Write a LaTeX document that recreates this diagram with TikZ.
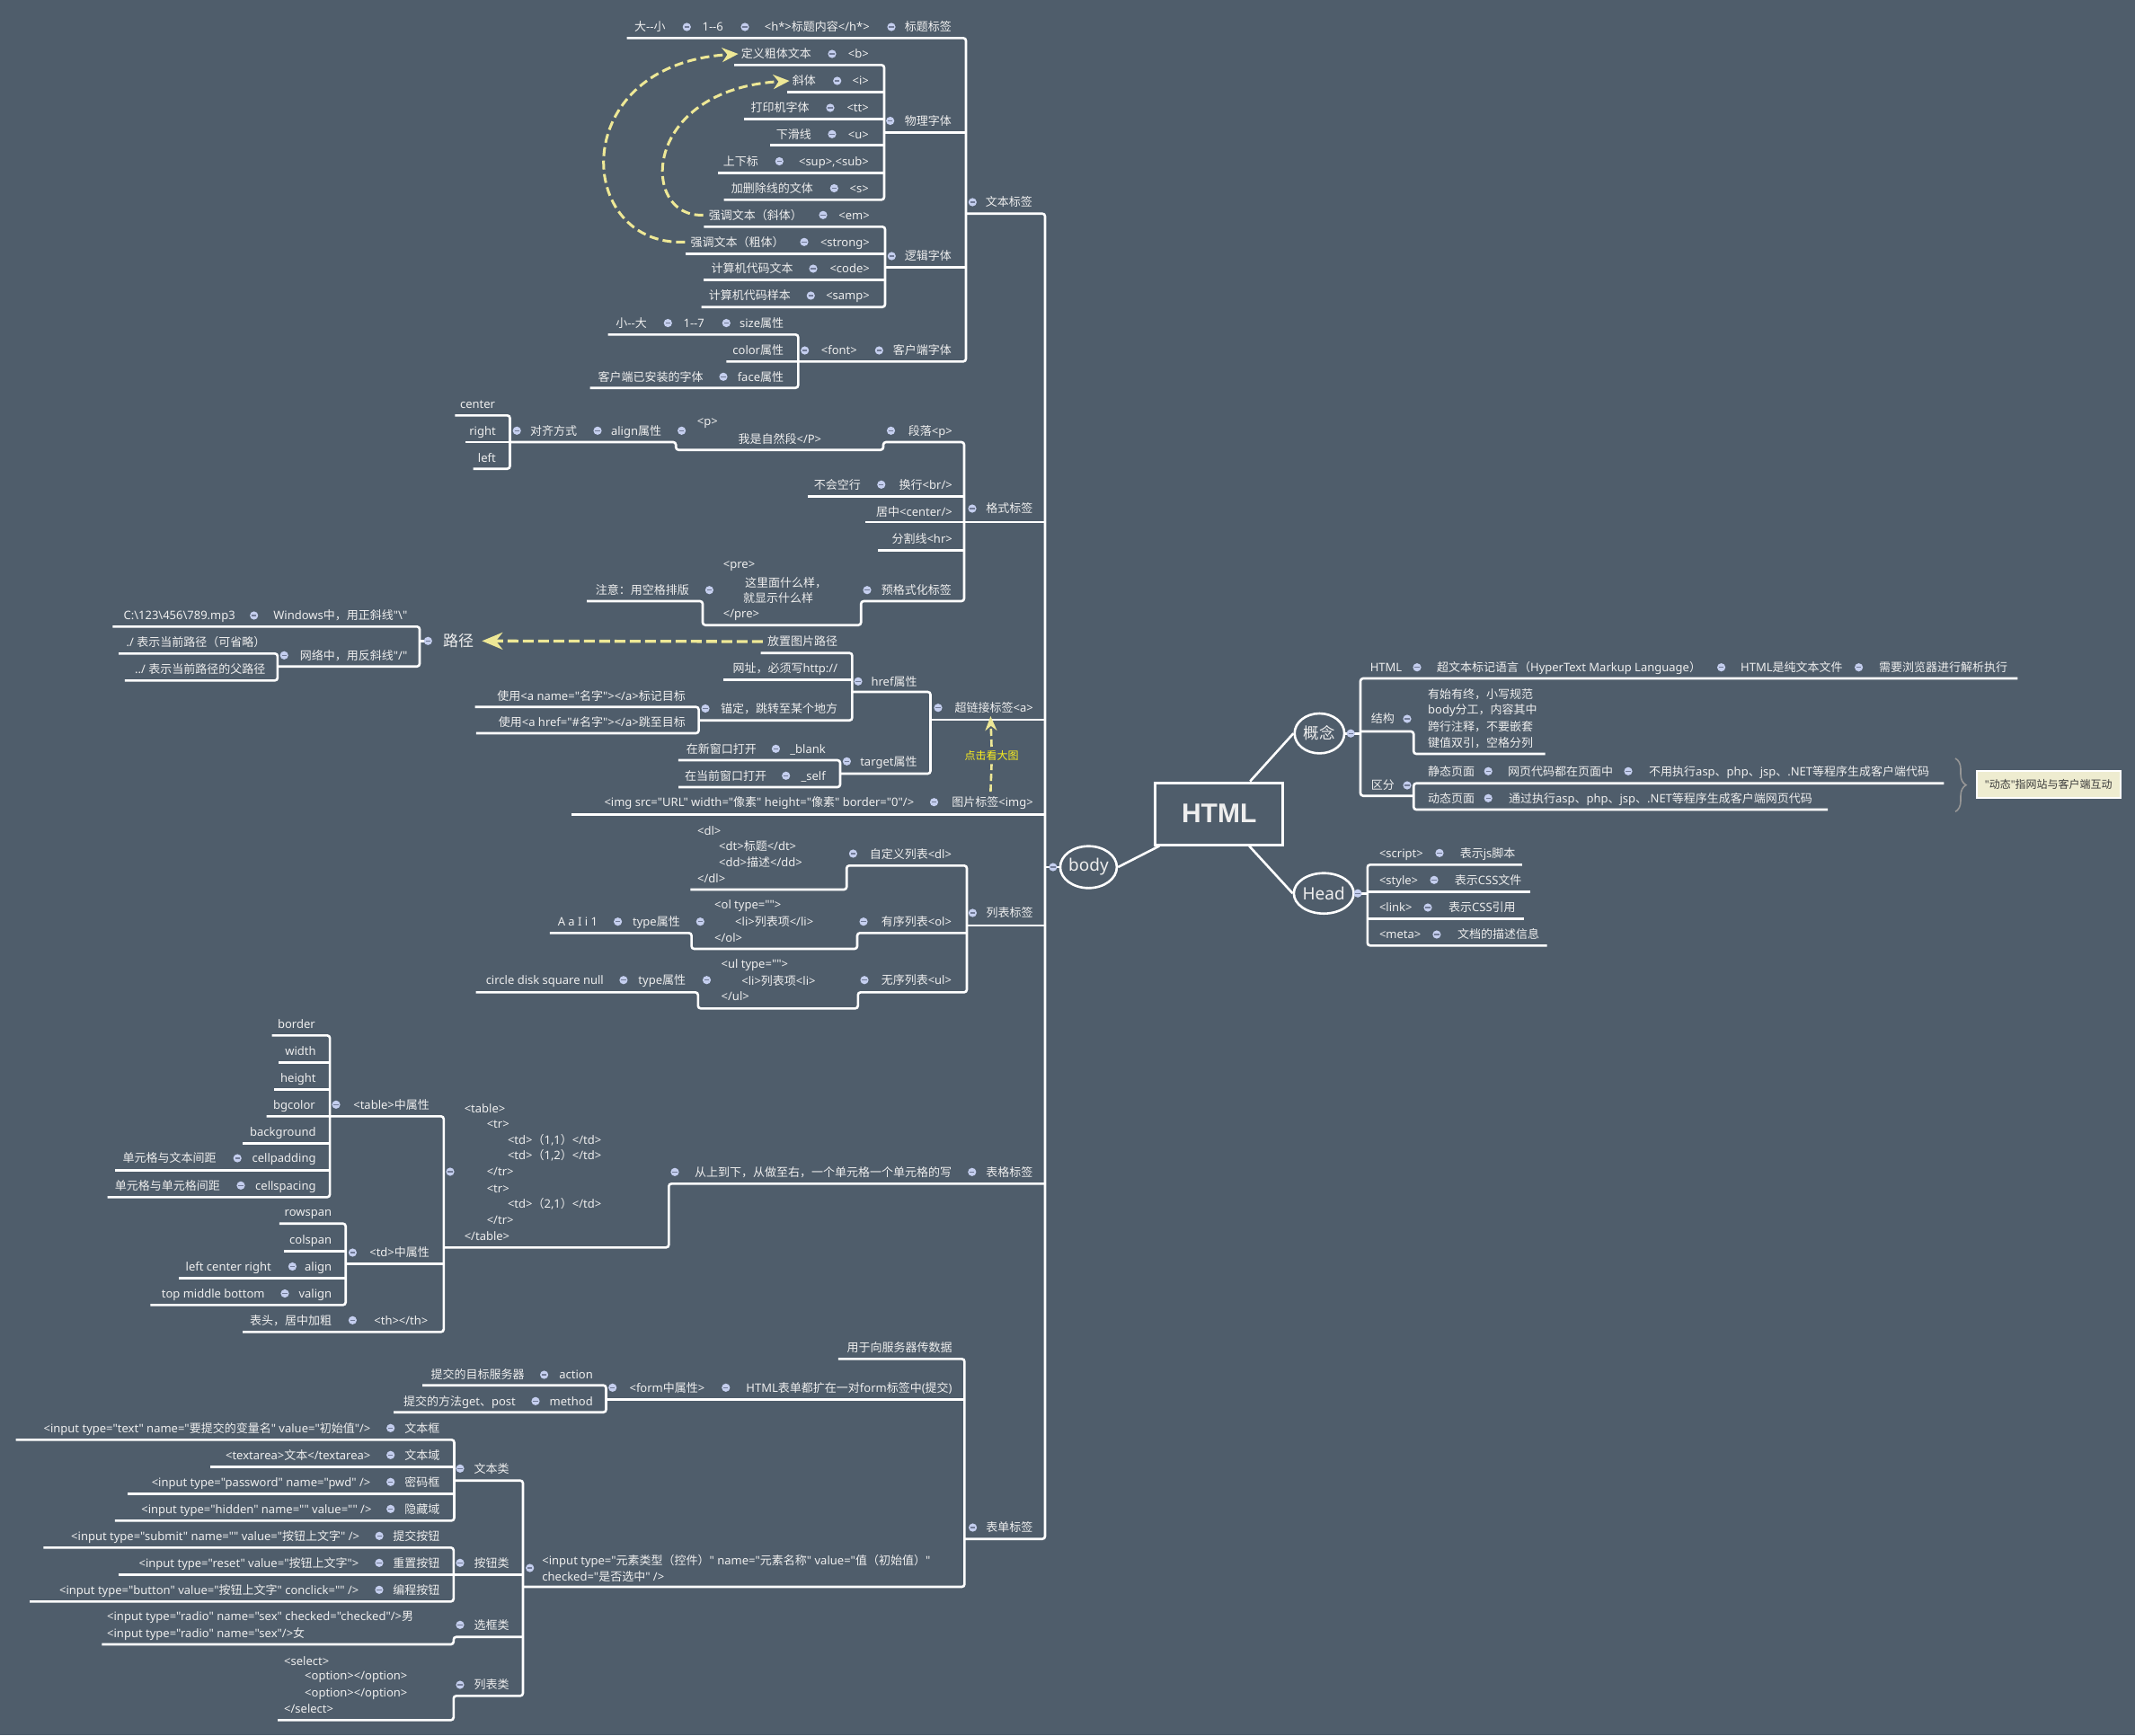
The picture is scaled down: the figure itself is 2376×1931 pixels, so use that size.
\documentclass[tikz,border=0pt]{standalone}
\usepackage{fontspec}
\setmainfont{Noto Sans}[Ligatures=TeXOff]
\newfontfamily\latf{Noto Sans}[Ligatures=TeXOff]
\newfontfamily\cjkf{Noto Sans CJK SC}[Ligatures=TeXOff]
\newfontfamily\hfont{Liberation Sans}
\XeTeXinterchartokenstate=1
\newXeTeXintercharclass\cjkcls
\newcount\mycnt
\newcommand\setcls[2]{\mycnt=#1\relax\loop\XeTeXcharclass\mycnt=\cjkcls\relax\ifnum\mycnt<#2\relax\advance\mycnt by 1\relax\repeat}
\setcls{"3000}{"303F}
\setcls{"4E00}{"9FFF}
\setcls{"FF00}{"FFEF}
\XeTeXinterchartoks 0 \cjkcls = {\cjkf}
\XeTeXinterchartoks 4095 \cjkcls = {\cjkf}
\XeTeXinterchartoks \cjkcls 0 = {\latf}
\XeTeXinterchartoks \cjkcls 4095 = {\latf}
\usetikzlibrary{shapes.geometric,arrows.meta,decorations.pathreplacing,calc}
\definecolor{bg}{RGB}{79,93,107}
\definecolor{txc}{RGB}{238,238,238}
\definecolor{dotf}{RGB}{196,206,238}
\definecolor{dotl}{RGB}{112,122,150}
\definecolor{ylw}{RGB}{238,232,150}
\definecolor{ylt}{RGB}{250,238,30}
\definecolor{brc}{RGB}{150,150,150}
\definecolor{callf}{RGB}{238,236,208}
\definecolor{callt}{RGB}{60,60,60}
\newcommand\fsz{\fontsize{13}{15.6}\selectfont}
\newcommand\txR[4]{\node[tx,anchor=east] (#1) at (#2,#3) {#4};}
\newcommand\txL[4]{\node[tx,anchor=west] (#1) at (#2,#3) {#4};}
\newcommand\mdot[2]{\fill[dotf] (#1,#2) circle (4.6); \draw[dotl,line width=1.3pt] (#1-2.6,#2) -- (#1+2.6,#2);}
\tikzset{
 tx/.style={text=txc, inner sep=0pt, font=\fsz, text height=11.4pt, text depth=1.6pt},
 wl/.style={draw=white, line width=2.6pt, rounded corners=3pt},
 ell/.style={ellipse, draw=white, line width=2.6pt, inner sep=0pt, text=txc},
 ya/.style={draw=ylw, line width=3pt, dash pattern=on 10pt off 5pt, -{Stealth[length=18pt,width=16pt]}},
}
\begin{document}
\begin{tikzpicture}[x=1pt,y=-1pt]
\fill[bg] (0,0) rectangle (2376,1931);
\useasboundingbox (0,0) rectangle (2376,1931);

% ================= 文本标签 =================
\draw[wl] (697.7,42.3) -- (1075,42.3) -- (1075,402.3) -- (808.3,402.3);
\draw[wl] (985,147.7) -- (1075,147.7);
\draw[wl] (986,297.7) -- (1075,297.7);
\draw[wl] (1075,237.7) -- (1163,237.7) -- (1163,1712.7) -- (1073.4,1712.7);
\draw[wl] (817,72.3) -- (984,72.3) -- (984,222.3) -- (805.7,222.3);
\draw[wl] (875.7,102.3) -- (984,102.3);
\draw[wl] (828.3,132.3) -- (984,132.3);
\draw[wl] (857.3,161.7) -- (984,161.7);
\draw[wl] (799,192.3) -- (984,192.3);
\draw[wl] (783.3,252.3) -- (985,252.3) -- (985,341.7) -- (780.7,341.7);
\draw[wl] (762.7,282.3) -- (985,282.3);
\draw[wl] (783.3,311.7) -- (985,311.7);
\draw[wl] (676.7,372.3) -- (888.3,372.3) -- (888.3,431.7) -- (656.7,431.7);

\txR{tA1}{740.7}{30}{大--小} \mdot{764.3}{30}
\txR{tA2}{805}{30}{1--6} \mdot{829}{30}
\txR{tA3}{968}{30}{<h*>标题内容</h*>} \mdot{992}{30}
\txR{tA4}{1059}{30}{标题标签}
\mdot{990.7}{134.5} \txR{tB}{1059}{134.5}{物理字体}
\mdot{992.3}{285} \txR{tC}{1059}{285}{逻辑字体}
\mdot{895.7}{390} \txR{tD1}{954}{390}{<font>} \mdot{978.3}{390} \txR{tD}{1059}{390}{客户端字体}
\mdot{1082.3}{225} \txR{tW}{1149}{225}{文本标签}

\txR{b1}{903}{60}{定义粗体文本} \mdot{926}{60} \txR{b1t}{967}{60}{<b>}
\txR{b2}{908}{90}{斜体} \mdot{931.7}{90} \txR{b2t}{967}{90}{<i>}
\txR{b3}{900.7}{120}{打印机字体} \mdot{924}{120} \txR{b3t}{967}{120}{<tt>}
\txR{b4}{903}{149.3}{下滑线} \mdot{926}{149.3} \txR{b4t}{967}{149.3}{<u>}
\txR{b5}{844}{179.5}{上下标} \mdot{867.3}{179.5} \txR{b5t}{967}{179.5}{<sup>,<sub>}
\txR{b6}{905}{209.5}{加删除线的文体} \mdot{928.3}{209.5} \txR{b6t}{967}{209.5}{<s>}

\txR{c1}{893}{239.3}{强调文本（斜体）} \mdot{916}{239.3} \txR{c1t}{968}{239.3}{<em>}
\txR{c2}{872.7}{269.3}{强调文本（粗体）} \mdot{895}{269.3} \txR{c2t}{968}{269.3}{<strong>}
\txR{c3}{882.7}{299}{计算机代码文本} \mdot{905}{299} \txR{c3t}{968}{299}{<code>}
\txR{c4}{880}{329}{计算机代码样本} \mdot{902.3}{329} \txR{c4t}{968}{329}{<samp>}

\txR{d1}{720}{359.5}{小--大} \mdot{743.3}{359.5} \txR{d1b}{784}{359.5}{1--7} \mdot{808.3}{359.5} \txR{d1c}{872.3}{359.5}{size属性}
\txR{d2}{872.3}{389.5}{color属性}
\txR{d3}{782.7}{419.3}{客户端已安装的字体} \mdot{805}{419.3} \txR{d3b}{872.3}{419.3}{face属性}

\draw[ya] ([xshift=-6pt]c2.west) .. controls (640,275) and (628,72) .. ([xshift=-3pt]b1.west);
\draw[ya] ([xshift=-6pt]c1.west) .. controls (712,243) and (712,100) .. ([xshift=-3pt]b2.west);

% ================= 格式标签 =================
\draw[wl] (567.5,492) -- (752.2,492) -- (752.2,500.7) -- (983,500.7) -- (983,492) -- (1073,492) -- (1073,669) -- (958.2,669) -- (958.2,695.7) -- (782,695.7) -- (782,669) -- (653,669);
\draw[wl] (898.8,552.3) -- (1073,552.3);
\draw[wl] (962.9,580.8) -- (1163,580.8);
\draw[wl] (977.4,612.3) -- (1073,612.3);
\draw[wl] (506.4,462.3) -- (567.5,462.3) -- (567.5,521.7) -- (526.5,521.7);
\draw[wl] (518,492) -- (567.5,492);

\txR{p1}{551.3}{450}{center}
\txR{p2}{552}{479.5}{right}
\txR{p3}{552}{509.5}{left}
\mdot{575.2}{479.3} \txR{p4}{642.3}{479.3}{对齐方式} \mdot{665}{479.3} \txR{p5}{736.3}{479.3}{align属性} \mdot{758.6}{479.3}
\txL{p6a}{775.7}{469}{<p>} \txL{p6b}{821.4}{489}{我是自然段</P>}
\mdot{991.5}{479.3} \txR{p7}{1060}{479.3}{段落<p>}
\txR{q1}{958}{539.3}{不会空行} \mdot{980.8}{539.3} \txR{q1b}{1060}{539.3}{换行<br/>}
\txR{q2}{1060}{569.3}{居中<center/>}
\txR{q3}{1060}{600}{分割线<hr>}
\mdot{1082}{566} \txR{qF}{1149.6}{566}{格式标签}
\txR{r1}{767}{656.7}{注意：用空格排版} \mdot{789.4}{656.7}
\txL{r2a}{804.7}{627.7}{<pre>} \txL{r2b}{829}{648.3}{这里面什么样，} \txL{r2c}{827}{666}{就显示什么样} \txL{r2d}{804.7}{682.3}{</pre>}
\mdot{965}{656.7} \txR{r3}{1059}{656.7}{预格式化标签}

% ================= 路径 =================
\draw[wl] (125.4,697.3) -- (467,697.3) -- (467,741.7) -- (309,741.7);
\draw[wl] (132,727.3) -- (308.9,727.3) -- (308.9,757.3) -- (138.8,757.3);
\draw[wl] (467,713.3) -- (474,713.3);
\txR{w1}{262}{685}{C:\textbackslash 123\textbackslash 456\textbackslash 789.mp3} \mdot{282.7}{685} \txR{w2}{453.5}{685}{Windows中，用正斜线"\textbackslash"}
\txR{w3}{295.5}{715}{./ 表示当前路径（可省略）}
\txR{w4}{295.5}{745}{../ 表示当前路径的父路径}
\mdot{316.2}{729.3} \txR{w5}{453.5}{729.3}{网络中，用反斜线"/"}
\mdot{476.3}{713.3}
\node[tx, font=\fontsize{17}{20}\selectfont, text height=15pt, text depth=2pt, anchor=west] (lj) at (493,713.3) {路径};

% ================= 超链接标签 =================
\draw[wl] (846.6,726.7) -- (948.4,726.7) -- (948.4,801.7) -- (777.6,801.7);
\draw[wl] (805,756.7) -- (948.4,756.7);
\draw[wl] (528.5,786.7) -- (777.6,786.7) -- (777.6,816) -- (529.8,816);
\draw[wl] (948.4,770) -- (1035.5,770) -- (1035.5,861) -- (935,861);
\draw[wl] (1035.5,801) -- (1163,801);
\draw[wl] (754.9,846) -- (935,846) -- (935,876) -- (755,876);
\draw[wl] (635.7,906.7) -- (1163,906.7);

\txR{h1}{932.3}{714}{放置图片路径}
\txR{h2}{932.3}{744}{网址，必须写http://}
\txR{h3}{763}{775}{使用<a name="名字"></a>标记目标}
\txR{h4}{763}{804}{使用<a href="\#名字"></a>跳至目标}
\mdot{785}{788.5} \txR{h5}{932.3}{788.5}{锚定，跳转至某个地方}
\mdot{955}{758.3} \txR{h6}{1020.7}{758.3}{href属性}
\txR{h7}{842}{833.3}{在新窗口打开} \mdot{863.4}{833.3} \txR{h7b}{919}{833.3}{\_blank}
\txR{h8}{853.3}{863.3}{在当前窗口打开} \mdot{874.7}{863.3} \txR{h8b}{919}{863.3}{\_self}
\mdot{942.4}{847.3} \txR{h9}{1020.7}{847.3}{target属性}
\mdot{1044}{787.7} \txR{hA}{1150}{787.7}{超链接标签<a>}
\txR{i1}{1017.4}{892.7}{<img src="URL" width="像素" height="像素" border="0"/>} \mdot{1039.5}{892.7} \txR{i2}{1150}{892.7}{图片标签<img>}

\draw[draw=ylw, line width=3.3pt, dash pattern=on 12pt off 5pt, -{Stealth[length=23pt,width=19pt]}] ([xshift=-5pt]h1.west) -- ([xshift=9pt]lj.east);

\node[font=\fontsize{12}{14}\selectfont, text=ylt, inner sep=4pt] (zk) at (1103.5,840.7) {点击看大图};
\coordinate (zt) at (1102.4,797);
\coordinate (zb) at (1102.4,881);
\draw[draw=ylw, line width=2.6pt, dash pattern=on 8pt off 4pt] (zb) -- (zk.south);
\draw[draw=ylw, line width=2.6pt, dash pattern=on 8pt off 4pt, -{Stealth[length=16pt,width=13pt]}] (zk.north) -- (zt);

% ================= 列表标签 =================
\draw[wl] (768.4,990) -- (942.2,990) -- (942.2,963.3) -- (1076,963.3) -- (1076,1104.3) -- (954.8,1104.3) -- (954.8,1122.3) -- (776.8,1122.3) -- (776.8,1104.3) -- (529.7,1104.3);
\draw[wl] (611.8,1038.3) -- (769.6,1038.3) -- (769.6,1056) -- (954,1056) -- (954,1038.3) -- (1076,1038.3);
\draw[wl] (1076,1030) -- (1162.4,1030);

\txL{l1a}{776}{924.3}{<dl>} \txL{l1b}{800}{941.7}{<dt>标题</dt>} \txL{l1c}{800}{960}{<dd>描述</dd>} \txL{l1d}{776}{977.7}{</dl>}
\mdot{949.4}{950} \txR{l1}{1059.2}{950.5}{自定义列表<dl>}
\txR{l2a}{665.3}{1025.7}{A a I i 1} \mdot{687.6}{1025.7} \txR{l2b}{757}{1025.7}{type属性} \mdot{779.3}{1025.7}
\txL{l2c}{795}{1006.7}{<ol type="">} \txL{l2d}{818}{1025.7}{<li>列表项</li>} \txL{l2e}{795}{1043.3}{</ol>}
\mdot{961}{1025.7} \txR{l2}{1059.2}{1025.7}{有序列表<ol>}
\txR{l3a}{672}{1090.7}{circle disk square null} \mdot{693.9}{1090.7} \txR{l3b}{763.3}{1090.7}{type属性} \mdot{786.5}{1090.7}
\txL{l3c}{802.5}{1072.7}{<ul type="">} \txL{l3d}{825.2}{1091.7}{<li>列表项<li>} \txL{l3e}{802.5}{1109}{</ul>}
\mdot{962}{1090.7} \txR{l3}{1059.2}{1090.7}{无序列表<ul>}
\mdot{1082.4}{1016} \txR{lL}{1149.7}{1016}{列表标签}

% ================= 表格标签 =================
\draw[wl] (302.5,1152.3) -- (367.1,1152.3) -- (367.1,1332.3) -- (119.6,1332.3);
\draw[wl] (310,1182.3) -- (367.1,1182.3);
\draw[wl] (305.2,1212.3) -- (367.1,1212.3);
\draw[wl] (270,1272.3) -- (367.1,1272.3);
\draw[wl] (128.4,1302.3) -- (367.1,1302.3);
\draw[wl] (296.7,1242.3) -- (493.8,1242.3) -- (493.8,1482.3) -- (270,1482.3);
\draw[wl] (310.9,1361.7) -- (384.7,1361.7) -- (384.7,1452.3) -- (167.4,1452.3);
\draw[wl] (315.9,1392.3) -- (384.7,1392.3);
\draw[wl] (198.8,1422.3) -- (384.7,1422.3);
\draw[wl] (384.7,1406.7) -- (493.8,1406.7);
\draw[wl] (493.8,1388.3) -- (744.3,1388.3) -- (744.3,1317.3) -- (1162,1317.3);

\txR{g1}{351}{1140}{border}
\txR{g2}{351.8}{1170}{width}
\txR{g3}{351.8}{1199.5}{height}
\txR{g4}{351}{1229.5}{bgcolor}
\txR{g5}{351.8}{1259.5}{background}
\txR{g6}{240.9}{1289}{单元格与文本间距} \mdot{264.2}{1289} \txR{g6b}{351.8}{1289}{cellpadding}
\txR{g7}{245}{1319.3}{单元格与单元格间距} \mdot{268}{1319.3} \txR{g7b}{351.8}{1319.3}{cellspacing}
\mdot{374}{1229.3} \txR{g8}{478.1}{1229.3}{<table>中属性}
\txR{g9}{369.4}{1349}{rowspan}
\txR{gA}{369.4}{1379.5}{colspan}
\txR{gB}{302}{1409.5}{left center right} \mdot{325.4}{1409.5} \txR{gBb}{369.4}{1409.5}{align}
\txR{gC}{294.8}{1439.5}{top middle bottom} \mdot{317}{1439.5} \txR{gCb}{369.4}{1439.5}{valign}
\mdot{392.4}{1394} \txR{gD}{478.1}{1394}{<td>中属性}
\txR{gE}{369.4}{1469.3}{表头，居中加粗} \mdot{392.4}{1469.3} \txR{gEb}{476.6}{1469.3}{<th></th>}
\mdot{501}{1304}
\txL{k1}{516.6}{1233.3}{<table>} \txL{k2}{541.6}{1250.7}{<tr>} \txL{k3}{564.8}{1268.3}{<td>（1,1）</td>} \txL{k4}{564.8}{1286}{<td>（1,2）</td>} \txL{k5}{541.6}{1304}{</tr>} \txL{k6}{541.6}{1322.3}{<tr>} \txL{k7}{564.8}{1340}{<td>（2,1）</td>} \txL{k8}{541.6}{1357.7}{</tr>} \txL{k9}{516.6}{1376}{</table>}
\mdot{751}{1304.3} \txR{kA}{1059.4}{1305}{从上到下，从做至右，一个单元格一个单元格的写} \mdot{1081.8}{1304.3} \txR{kB}{1149.6}{1305}{表格标签}

% ================= 表单标签 =================
\draw[wl] (932.8,1512.3) -- (1073.4,1512.3) -- (1073.4,1766) -- (582,1766);
\draw[wl] (674.5,1557.3) -- (1073.4,1557.3);
\draw[wl] (470,1541.7) -- (674.5,1541.7) -- (674.5,1571.7) -- (438,1571.7);
\draw[wl] (505.5,1647.7) -- (582,1647.7) -- (582,1887.3) -- (504.8,1887.3) -- (504.8,1914.3) -- (309.2,1914.3);
\draw[wl] (505,1752.3) -- (582,1752.3);
\draw[wl] (582,1821.7) -- (504.8,1821.7) -- (504.8,1830) -- (113.3,1830);
\draw[wl] (17.7,1602.3) -- (505.5,1602.3) -- (505.5,1692.3) -- (127.9,1692.3);
\draw[wl] (233.9,1632.7) -- (505.5,1632.7);
\draw[wl] (142,1662.7) -- (505.5,1662.7);
\draw[wl] (48.3,1722.3) -- (504.8,1722.3) -- (504.8,1782.3) -- (33,1782.3);
\draw[wl] (131.7,1752.3) -- (504.8,1752.3);

\txR{f1}{1059.8}{1500}{用于向服务器传数据}
\txR{f2}{583.8}{1530}{提交的目标服务器} \mdot{605.6}{1530} \txR{f2b}{660}{1530}{action}
\txR{f3}{574.1}{1559.3}{提交的方法get、post} \mdot{596}{1559.3} \txR{f3b}{660}{1559.3}{method}
\mdot{681.7}{1544.3} \txR{f4}{784.5}{1544.3}{<form中属性>} \mdot{807.8}{1544.3} \txR{f5}{1059.8}{1544.3}{HTML表单都扩在一对form标签中(提交)}
\mdot{1082.6}{1700} \txR{f6}{1149.5}{1700}{表单标签}
\mdot{589.7}{1745} \txL{f7a}{603.2}{1736.7}{<input type="元素类型（控件）" name="元素名称" value="值（初始值）"} \txL{f7b}{603.2}{1755}{checked="是否选中" />}

\txR{e1}{412.6}{1589.3}{<input type="text" name="要提交的变量名" value="初始值"/>} \mdot{434.7}{1589.3} \txR{e1b}{489.5}{1589.3}{文本框}
\txR{e2}{412.6}{1619.3}{<textarea>文本</textarea>} \mdot{434.7}{1619.3} \txR{e2b}{489.5}{1619.3}{文本域}
\txR{e3}{412.6}{1649.3}{<input type="password" name="pwd" />} \mdot{434.7}{1649.3} \txR{e3b}{489.5}{1649.3}{密码框}
\txR{e4}{413.7}{1679.3}{<input type="hidden" name="" value="" />} \mdot{434.7}{1679.3} \txR{e4b}{489.5}{1679.3}{隐藏域}
\mdot{512}{1634.3} \txR{e5}{566.8}{1634.3}{文本类}
\txR{e6}{400.3}{1709.3}{<input type="submit" name="" value="按钮上文字" />} \mdot{422.1}{1709.3} \txR{e6b}{489.5}{1709.3}{提交按钮}
\txR{e7}{399.5}{1739.3}{<input type="reset" value="按钮上文字">} \mdot{422}{1739.3} \txR{e7b}{489.5}{1739.3}{重置按钮}
\txR{e8}{399.5}{1769.3}{<input type="button" value="按钮上文字" conclick="" />} \mdot{422}{1769.3} \txR{e8b}{489.5}{1769.3}{编程按钮}
\mdot{512}{1739.3} \txR{e9}{566.8}{1739.3}{按钮类}
\txL{eA1}{119}{1799}{<input type="radio" name="sex" checked="checked"/>男} \txL{eA2}{119}{1817.3}{<input type="radio" name="sex"/>女}
\mdot{512}{1808.3} \txR{eA}{566.8}{1809}{选框类}
\txL{eB1}{316}{1848.3}{<select>} \txL{eB2}{339}{1865}{<option></option>} \txL{eB3}{339}{1883.3}{<option></option>} \txL{eB4}{316}{1901.7}{</select>}
\mdot{512}{1875} \txR{eB}{566.8}{1875}{列表类}

% ================= HTML / body / 概念 / Head =================
\node[draw=white, line width=3pt, minimum width=142pt, minimum height=69pt, inner sep=0pt, text=txc] (html) at (1356.7,905.5) {\hfont\bfseries\fontsize{30}{36}\selectfont HTML};
\node[ell, minimum width=61.6pt, minimum height=46.6pt] (body) at (1211.4,965) {\fontsize{19}{22}\selectfont body};
\node[ell, minimum width=55.4pt, minimum height=44.4pt] (gn) at (1468.4,816.2) {\fontsize{17.5}{21}\selectfont 概念};
\node[ell, minimum width=63.3pt, minimum height=45pt] (hd) at (1473.2,994.2) {\fontsize{19}{22}\selectfont Head};
\draw[wl] ([xshift=6pt]html.south west) -- (body.east);
\draw[wl] ([xshift=-38pt]html.north east) -- (gn.west);
\draw[wl] ([xshift=-39pt]html.south east) -- (hd.west);
\draw[wl] (1163,965) -- (body.west); \mdot{1171.9}{965}
\draw[wl] (gn.east) -- (1514,816.2); \mdot{1503.2}{816.2}
\draw[wl] (hd.east) -- (1521.8,994.2); \mdot{1511}{994.2}

\draw[wl] (2245.3,755) -- (1514,755) -- (1514,885.7) -- (1573.2,885.7);
\draw[wl] (1514,814) -- (1573.2,814) -- (1573.2,839) -- (1719.5,839);
\draw[wl] (2163.4,871.7) -- (1573.2,871.7) -- (1573.2,901) -- (2034,901);
\txL{x1}{1524.6}{742.7}{HTML} \mdot{1577}{742.7} \txL{x2}{1598.9}{742.7}{超文本标记语言（HyperText Markup Language）} \mdot{1915.6}{742.7} \txL{x3}{1937}{742.7}{HTML是纯文本文件} \mdot{2068.6}{742.7} \txL{x4}{2091}{742.7}{需要浏览器进行解析执行}
\txL{x5}{1525.7}{800}{结构} \mdot{1566}{800}
\txL{x6a}{1589}{772.3}{有始有终，小写规范} \txL{x6b}{1589}{790}{body分工，内容其中} \txL{x6c}{1589}{808.3}{跨行注释，不要嵌套} \txL{x6d}{1589}{826.7}{键值双引，空格分列}
\txL{x7}{1525.7}{874}{区分} \mdot{1566}{874}
\txL{x8}{1589}{858.3}{静态页面} \mdot{1656.2}{858.3} \txL{x8b}{1678}{858.3}{网页代码都在页面中} \mdot{1812}{858.3} \txL{x8c}{1835}{858.3}{不用执行asp、php、jsp、.NET等程序生成客户端代码}
\txL{x9}{1589}{888.3}{动态页面} \mdot{1656.2}{888.3} \txL{x9b}{1678.8}{888.3}{通过执行asp、php、jsp、.NET等程序生成客户端网页代码}

\draw[wl] (1693.8,962.3) -- (1521.8,962.3) -- (1521.8,1052.3) -- (1721.5,1052.3);
\draw[wl] (1521.8,992.3) -- (1703,992.3);
\draw[wl] (1521.8,1022.3) -- (1695.8,1022.3);
\txL{y1}{1534.8}{949.3}{<script>} \mdot{1602}{949.3} \txL{y1b}{1624.6}{949.3}{表示js脚本}
\txL{y2}{1534.8}{979.3}{<style>} \mdot{1596}{979.3} \txL{y2b}{1618.7}{979.3}{表示CSS文件}
\txL{y3}{1534.8}{1010}{<link>} \mdot{1589}{1010} \txL{y3b}{1612}{1010}{表示CSS引用}
\txL{y4}{1534.8}{1040}{<meta>} \mdot{1598.9}{1040} \txL{y4b}{1621.8}{1040}{文档的描述信息}

\draw[brc, line width=1.6pt, decorate, decoration={brace, amplitude=12pt}] (2176,844) -- (2176,903.3);
\node[draw=white, fill=callf, line width=2pt, minimum width=159.6pt, minimum height=30pt, inner sep=0pt, text=callt, font=\fontsize{12}{14}\selectfont] (cb) at (2279.8,873.3) {"动态"指网站与客户端互动};
\end{tikzpicture}
\end{document}
